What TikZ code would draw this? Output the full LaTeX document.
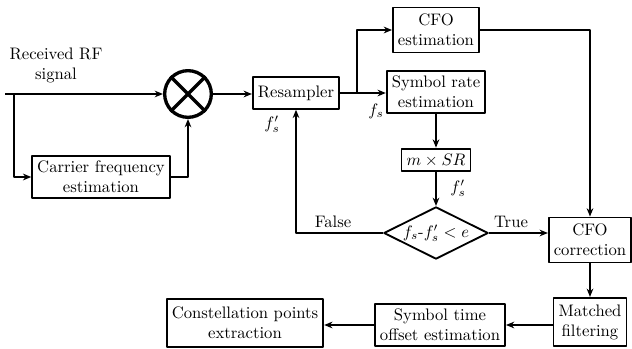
\documentclass[tikz,border=0pt]{standalone}
\usetikzlibrary{arrows.meta,shapes.geometric}
\tikzset{
  every picture/.style={line join=round, >={Stealth[length=5pt,width=4pt]}},
  blk/.style={draw, line width=1.1pt, align=center, inner sep=3pt},
  lnk/.style={line width=0.9pt},
}

\begin{document}
\begin{tikzpicture}[x=0.6pt,y=-0.6pt]
\useasboundingbox (0,0) rectangle (632,349);
% input and carrier removal
\node[align=center] (rxt) at (56,65) {Received RF\\signal};
\coordinate (rxin) at (5,94);
\coordinate (rxbr) at (14,94);
\node[circle, draw, line width=2pt, minimum size=28pt] (mix) at (188,94) {};
\draw[line width=2pt] (mix.north west)--(mix.south east) (mix.north east)--(mix.south west);
\node[blk] (carrier) at (101,177) {Carrier frequency\\estimation};
\node[blk, minimum height=19pt] (res) at (296,93) {Resampler};
% estimation branch
\node[blk, minimum height=27pt] (cfoest) at (436,30) {CFO\\estimation};
\node[blk] (symrate) at (436,92) {Symbol rate\\estimation};
\node[blk] (msr) at (436,160) {$m\times SR$};
\node[diamond, draw, line width=1.1pt, aspect=2, inner sep=0.5pt, minimum width=62pt, minimum height=30pt] (dec) at (436,233) {$f_s$-$f'_s<e$};
\node[blk, minimum height=27pt] (corr) at (590,240) {CFO\\correction};
\node[blk, minimum height=29pt] (match) at (590,322) {Matched\\filtering};
\node[blk] (symoff) at (440,325) {Symbol time\\offset estimation};
\node[blk, minimum height=29pt] (const) at (245,323) {Constellation points\\extraction};
% labels
\node (fs) at (376,111) {$f_s$};
\node (fsr) at (272,124) {$f'_s$};
\node (fsm) at (458,188) {$f'_s$};
\node (flab) at (333,222) {False};
\node (tlab) at (511,222) {True};
% connectors
\coordinate (resbr) at (357,93);
\draw[lnk,->] (rxin) -- (mix.west);
\draw[lnk,->] (rxbr) |- (carrier.west);
\draw[lnk,->] (carrier.east) -| (mix.south);
\draw[lnk,->] (mix.east) -- (res.west |- mix.east);
\draw[lnk] (res.east) -- (resbr);
\draw[lnk,->] (resbr) -- (symrate.west |- resbr);
\draw[lnk,->] (resbr) |- (cfoest.west);
\draw[lnk,->] (cfoest.east) -| (corr.north);
\draw[lnk,->] (symrate.south) -- (msr.north);
\draw[lnk,->] (msr.south) -- (dec.north);
\draw[lnk,->] (dec.west) -| (res.south);
\draw[lnk,->] (dec.east) -- (dec.east -| corr.west);
\draw[lnk,->] (corr.south) -- (match.north);
\draw[lnk,->] (match.west |- symoff.east) -- (symoff.east);
\draw[lnk,->] (symoff.west) -- (const.east |- symoff.west);
\end{tikzpicture}
\end{document}
